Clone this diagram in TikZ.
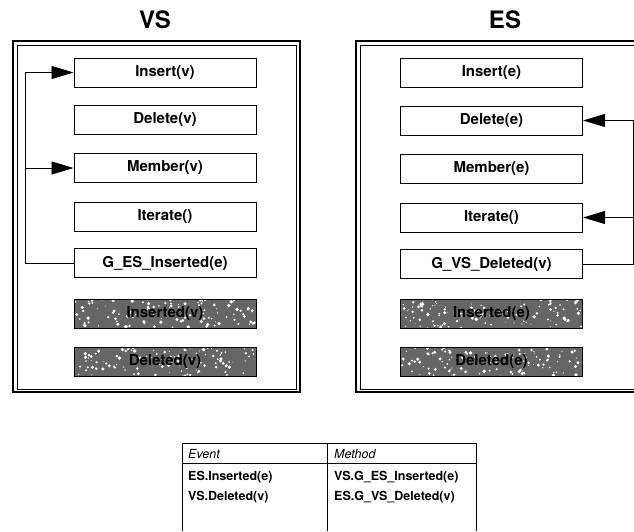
\documentclass[tikz,border=0pt]{standalone}
\usepackage{fontspec}
\setmainfont{TeX Gyre Heros}
\usetikzlibrary{arrows.meta}
\begin{document}
\begin{tikzpicture}[x=1pt,y=-1pt,
  op/.style={draw, line width=1pt, minimum width=182pt, minimum height=29pt,
    inner sep=0pt, font=\fontsize{15}{17}\selectfont\bfseries, fill=white},
  evt/.style={op, fill=black!60,
    path picture={\pgfmathsetseed{#1}
      \foreach \k in {1,...,110}{
        \fill[white] ([shift={(rand*90pt, rand*14pt)}]path picture bounding box.center)
          circle[radius=0.4pt+rnd*1.5pt];}}},
  evt/.default=3,
  frameline/.style={line width=1.3pt},
  title/.style={font=\fontsize{24}{28}\selectfont\bfseries},
  wire/.style={line width=0.9pt},
  tip/.style={-{Triangle[length=22pt,width=13pt]}},
  cell/.style={anchor=west, font=\fontsize{12.5}{14}\selectfont\bfseries, inner sep=0pt},
  head/.style={cell, font=\fontsize{12.5}{14}\selectfont\itshape},
  rule/.style={line width=0.8pt}]
\path[use as bounding box, clip] (0,0) rectangle (634,531);

% titles
\node[title] (tvs) at (155,20) {VS};
\node[title] (tes) at (505,20) {ES};

% double frames
\draw[frameline] (13,41) rectangle (300,392);
\draw[line width=1pt] (17,45) rectangle (296,389);
\draw[frameline] (356,41) rectangle (680,392);
\draw[line width=1pt] (360,45) rectangle (676,389);

% VS operations
\node[op] (vins) at (165,72.5) {Insert(v)};
\node[op] (vdel) at (165,120) {Delete(v)};
\node[op] (vmem) at (165,168) {Member(v)};
\node[op] (vit)  at (165,216.5) {Iterate()};
\node[op] (vgei) at (165,263) {G\_ES\_Inserted(e)};
\node[evt=5] (vev1) at (165,313.5) {Inserted(v)};
\node[evt=9] (vev2) at (165,361.5) {Deleted(v)};

% ES operations
\node[op] (eins) at (491.5,72.5) {Insert(e)};
\node[op] (edel) at (491.5,120.5) {Delete(e)};
\node[op] (emem) at (491.5,168.5) {Member(e)};
\node[op] (eit)  at (491.5,217.5) {Iterate()};
\node[op] (egvd) at (491.5,264) {G\_VS\_Deleted(v)};
\node[evt=13] (eev1) at (491.5,314) {Inserted(e)};
\node[evt=21] (eev2) at (491.5,362) {Deleted(e)};

% VS handler calls
\coordinate (vbus) at (25,263);
\draw[wire, tip] (vgei.west) -- (vbus) |- (vins.west);
\draw[wire, tip] (vbus |- vmem.west) -- (vmem.west);

% ES handler calls
\coordinate (ebus) at (633,264);
\draw[wire, tip] (egvd.east) -- (ebus) |- (edel.east);
\draw[wire, tip] (ebus |- eit.east) -- (eit.east);

% event / method table
\draw[rule] (182,531) -- (182,443) -- (476,443) -- (476,531);
\draw[rule] (327,443) -- (327,531);
\draw[rule] (182,463) -- (476,463);
\node[head] (hev) at (188,454) {Event};
\node[head] (hme) at (334,454) {Method};
\node[cell] (r1a) at (188,477) {ES.Inserted(e)};
\node[cell] (r1b) at (334,477) {VS.G\_ES\_Inserted(e)};
\node[cell] (r2a) at (188,497) {VS.Deleted(v)};
\node[cell] (r2b) at (334,497) {ES.G\_VS\_Deleted(v)};
\end{tikzpicture}
\end{document}
